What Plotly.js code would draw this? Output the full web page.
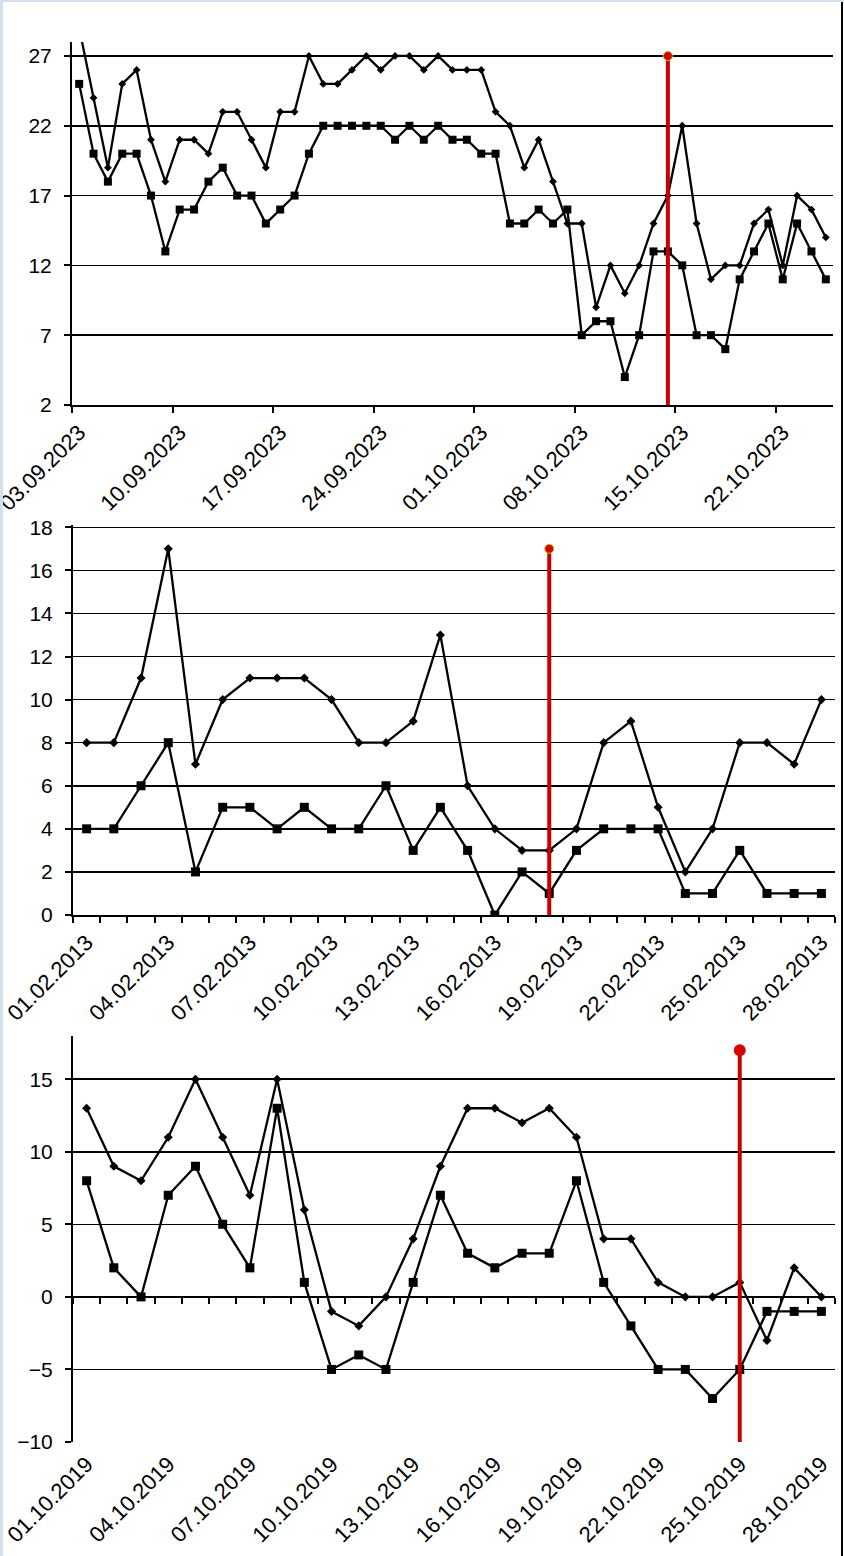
<!DOCTYPE html>
<html>
<head>
<meta charset="utf-8">
<script src="https://cdn.plot.ly/plotly-3.0.1.min.js"></script>
<style>
html, body { margin:0; padding:0; background:#fff; }
#wykres { position:absolute; left:0; top:0; width:844px; height:1556px; }
.ramka { position:absolute; pointer-events:none; }
</style>
</head>
<body>
<div id="wykres"></div>
<div class="ramka" style="left:0;top:0;width:3px;height:1556px;background:#d3dfec"></div>
<div class="ramka" style="left:0;top:0;width:844px;height:2px;background:#d3dfec"></div>
<div class="ramka" style="left:841px;top:2px;width:2px;height:1554px;background:#000"></div>
<script>
// wykres 1: wrzesien - pazdziernik 2023
var dni1 = ['2023-09-03','2023-09-04','2023-09-05','2023-09-06','2023-09-07','2023-09-08','2023-09-09',
	'2023-09-10','2023-09-11','2023-09-12','2023-09-13','2023-09-14','2023-09-15','2023-09-16',
	'2023-09-17','2023-09-18','2023-09-19','2023-09-20','2023-09-21','2023-09-22','2023-09-23',
	'2023-09-24','2023-09-25','2023-09-26','2023-09-27','2023-09-28','2023-09-29','2023-09-30',
	'2023-10-01','2023-10-02','2023-10-03','2023-10-04','2023-10-05','2023-10-06','2023-10-07',
	'2023-10-08','2023-10-09','2023-10-10','2023-10-11','2023-10-12','2023-10-13','2023-10-14',
	'2023-10-15','2023-10-16','2023-10-17','2023-10-18','2023-10-19','2023-10-20','2023-10-21',
	'2023-10-22','2023-10-23','2023-10-24','2023-10-25']
var romb1 = [29,24,19,25,26,21,18,21,21,20,23,23,21,19,23,23,27,25,25,26,27,26,27,27,26,27,
	26,26,26,23,22,19,21,18,15,15,9,12,10,12,15,17,22,15,11,12,12,15,16,12,17,16,14]
var kwadrat1 = [25,20,18,20,20,17,13,16,16,18,19,17,17,15,16,17,20,22,22,22,22,22,21,22,21,22,
	21,21,20,20,15,15,16,15,16,7,8,8,4,7,13,13,12,7,7,6,11,13,15,11,15,13,11]
var etykietyDni1 = ['2023-09-03','2023-09-10','2023-09-17','2023-09-24','2023-10-01','2023-10-08','2023-10-15','2023-10-22']
var etykiety1 = ['03.09.2023','10.09.2023','17.09.2023','24.09.2023','01.10.2023','08.10.2023','15.10.2023','22.10.2023']
var znacznik1 = ['2023-10-14', 2, 27]

// wykres 2: luty 2013
var dni2 = ['2013-02-01','2013-02-02','2013-02-03','2013-02-04','2013-02-05','2013-02-06','2013-02-07',
	'2013-02-08','2013-02-09','2013-02-10','2013-02-11','2013-02-12','2013-02-13','2013-02-14',
	'2013-02-15','2013-02-16','2013-02-17','2013-02-18','2013-02-19','2013-02-20','2013-02-21',
	'2013-02-22','2013-02-23','2013-02-24','2013-02-25','2013-02-26','2013-02-27','2013-02-28']
var romb2 = [8,8,11,17,7,10,11,11,11,10,8,8,9,13,6,4,3,3,4,8,9,5,2,4,8,8,7,10]
var kwadrat2 = [4,4,6,8,2,5,5,4,5,4,4,6,3,5,3,0,2,1,3,4,4,4,1,1,3,1,1,1]
var etykietyDni2 = ['2013-02-01','2013-02-04','2013-02-07','2013-02-10','2013-02-13','2013-02-16','2013-02-19','2013-02-22','2013-02-25','2013-02-28']
var etykiety2 = ['01.02.2013','04.02.2013','07.02.2013','10.02.2013','13.02.2013','16.02.2013','19.02.2013','22.02.2013','25.02.2013','28.02.2013']
var znacznik2 = ['2013-02-18', 0, 17]

// wykres 3: pazdziernik 2019
var dni3 = ['2019-10-01','2019-10-02','2019-10-03','2019-10-04','2019-10-05','2019-10-06','2019-10-07',
	'2019-10-08','2019-10-09','2019-10-10','2019-10-11','2019-10-12','2019-10-13','2019-10-14',
	'2019-10-15','2019-10-16','2019-10-17','2019-10-18','2019-10-19','2019-10-20','2019-10-21',
	'2019-10-22','2019-10-23','2019-10-24','2019-10-25','2019-10-26','2019-10-27','2019-10-28']
var romb3 = [13,9,8,11,15,11,7,15,6,-1,-2,0,4,9,13,13,12,13,11,4,4,1,0,0,1,-3,2,0]
var kwadrat3 = [8,2,0,7,9,5,2,13,1,-5,-4,-5,1,7,3,2,3,3,8,1,-2,-5,-5,-7,-5,-1,-1,-1]
var etykietyDni3 = ['2019-10-01','2019-10-04','2019-10-07','2019-10-10','2019-10-13','2019-10-16','2019-10-19','2019-10-22','2019-10-25','2019-10-28']
var etykiety3 = ['01.10.2019','04.10.2019','07.10.2019','10.10.2019','13.10.2019','16.10.2019','19.10.2019','22.10.2019','25.10.2019','28.10.2019']
var znacznik3 = ['2019-10-25', -10, 17]

var W = 844, H = 1556
var DZIEN = 86400000
var czcionkaY = {family: 'Liberation Sans, Arial, sans-serif', size: 21, color: '#000'}
var czcionkaX = {family: 'Liberation Sans, Arial, sans-serif', size: 22, color: '#000'}

function domX(l, p) { return [l / W, p / W] }
function domY(gora, dol) { return [1 - dol / H, 1 - gora / H] }
function polDnia(d, ile) { return new Date(new Date(d + 'T00:00:00Z').getTime() + ile * DZIEN).toISOString().slice(0, 19).replace('T', ' ') }

function seria(x, y, symbol, rozmiar, xa, ya)
{
	return {
		type: 'scatter', mode: 'lines+markers', x: x, y: y, xaxis: xa, yaxis: ya,
		line: {color: '#000', width: 2.3},
		marker: {symbol: symbol, size: rozmiar, color: '#000'},
		hoverinfo: 'skip', showlegend: false
	}
}

function linia(zn, xa, ya, kropka)
{
	return [{
		type: 'scatter', mode: 'lines', x: [zn[0], zn[0]], y: [zn[1], zn[2]], xaxis: xa, yaxis: ya,
		line: {color: '#c80000', width: 4}, hoverinfo: 'skip', showlegend: false
	}, {
		type: 'scatter', mode: 'markers', x: [zn[0]], y: [zn[2]], xaxis: xa, yaxis: ya,
		marker: kropka, cliponaxis: false, hoverinfo: 'skip', showlegend: false
	}]
}

function osX(dom, dni, dniEt, et, krok, anchor)
{
	return {
		domain: dom, anchor: anchor, type: 'date',
		range: [polDnia(dni[0], -0.5), polDnia(dni[dni.length - 1], 0.5)],
		tickmode: 'array', tickvals: dniEt, ticktext: et, ticks: '',
		tickangle: -45, tickfont: czcionkaX, ticklabelstandoff: 4,
		ticklabeloverflow: 'allow',
		showgrid: false, zeroline: false,
		showline: true, linecolor: '#000', linewidth: 2,
		minor: {tickmode: 'linear', tick0: polDnia(dni[0], -0.5), dtick: krok * DZIEN,
			ticks: 'outside', ticklen: 6, tickwidth: 2, tickcolor: '#000', showgrid: false}
	}
}

function osY(dom, zakres, t0, dt, anchor)
{
	return {
		domain: dom, anchor: anchor, range: zakres,
		tickmode: 'linear', tick0: t0, dtick: dt,
		ticks: 'outside', ticklen: 6, tickwidth: 2, tickcolor: '#000',
		tickfont: czcionkaY, ticklabelstandoff: 8,
		showgrid: true, gridcolor: '#000', gridwidth: 1.5, zeroline: false,
		showline: true, linecolor: '#000', linewidth: 2
	}
}

var kropkaMala = {color: '#dd0000', size: 9, line: {color: '#9acd32', width: 1}}
var kropkaDuza = {color: '#dd0000', size: 12, line: {width: 0}}

var dane = []
dane.push(seria(dni1, romb1, 'diamond', 6, 'x', 'y'))
dane.push(seria(dni1, kwadrat1, 'square', 8, 'x', 'y'))
dane = dane.concat(linia(znacznik1, 'x', 'y', kropkaMala))
dane.push(seria(dni2, romb2, 'diamond', 7, 'x2', 'y2'))
dane.push(seria(dni2, kwadrat2, 'square', 9, 'x2', 'y2'))
dane = dane.concat(linia(znacznik2, 'x2', 'y2', kropkaMala))
dane.push(seria(dni3, romb3, 'diamond', 7, 'x3', 'y3'))
dane.push(seria(dni3, kwadrat3, 'square', 9, 'x3', 'y3'))
// os x4 lezy na zerze i niesie tylko kreski, czerwona linia idzie na nia zeby os powstala
dane = dane.concat(linia(znacznik3, 'x4', 'y3', kropkaDuza))

var zakres3 = [-10, 18]
var dom3 = domY(1035.7, 1442)
var zero3 = dom3[0] + (0 - zakres3[0]) / (zakres3[1] - zakres3[0]) * (dom3[1] - dom3[0])

var x3 = osX(domX(73, 835), dni3, etykietyDni3, etykiety3, 1, 'y3')
x3.showline = false
x3.minor = {ticks: '', showgrid: false}

var x4 = {
	overlaying: 'x3', anchor: 'free', position: zero3, side: 'bottom', type: 'date',
	range: x3.range, tickmode: 'linear', tick0: x3.range[0], dtick: DZIEN,
	ticks: 'outside', ticklen: 6, tickwidth: 2, tickcolor: '#000',
	showticklabels: false, showgrid: false, showline: false, zeroline: false
}

var layout = {
	width: W, height: H,
	margin: {l: 0, r: 0, t: 0, b: 0},
	paper_bgcolor: '#fff', plot_bgcolor: '#fff',
	showlegend: false,
	xaxis: osX(domX(72, 833), dni1, etykietyDni1, etykiety1, 7, 'y'),
	yaxis: osY(domY(42, 405), [2, 28], 2, 5, 'x'),
	xaxis2: osX(domX(73, 835), dni2, etykietyDni2, etykiety2, 1, 'y2'),
	yaxis2: osY(domY(525.1, 915), [0, 18.1], 0, 2, 'x2'),
	xaxis3: x3,
	yaxis3: osY(dom3, zakres3, -10, 5, 'x3'),
	xaxis4: x4
}

Plotly.newPlot('wykres', dane, layout, {staticPlot: true, displayModeBar: false})
</script>
</body>
</html>
